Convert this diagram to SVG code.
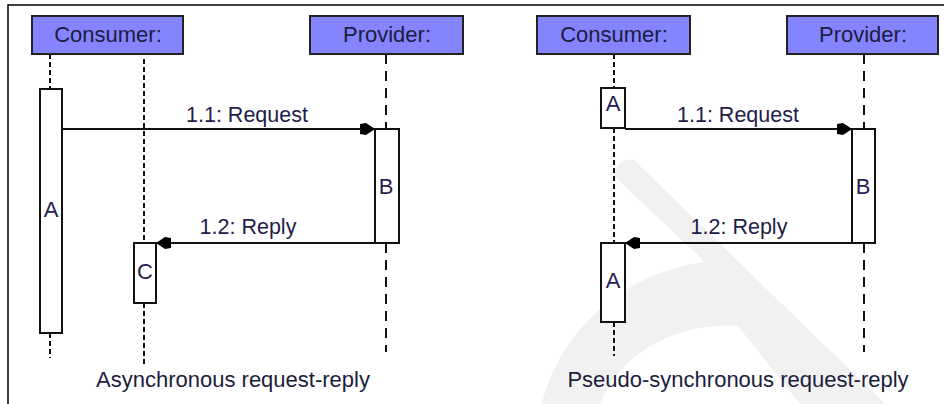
<svg xmlns="http://www.w3.org/2000/svg" width="944" height="404" viewBox="0 0 944 404">
<style>
.frame{fill:none;stroke:#000;stroke-width:1.5}
.obj{fill:#8484ff;stroke:#222;stroke-width:2}
.objt{font-family:"Liberation Sans",Arial,sans-serif;font-size:22px;fill:#1c1c40;text-anchor:middle}
.act{fill:#fff;stroke:#111;stroke-width:2}
.actt{font-family:"Liberation Sans",Arial,sans-serif;font-size:22px;fill:#2a2050;text-anchor:middle}
.life{fill:none;stroke:#111;stroke-width:2;stroke-dasharray:5 3}
.plife{fill:none;stroke:#111;stroke-width:2;stroke-dasharray:10 7}
.msg{fill:none;stroke:#111;stroke-width:2}
.msgt{font-family:"Liberation Sans",Arial,sans-serif;font-size:21.5px;fill:#241c48;text-anchor:middle}
.cap{font-family:"Liberation Sans",Arial,sans-serif;font-size:22px;fill:#1c1c3c;text-anchor:middle}
.wm{fill:#f1f1f1}
</style>
<defs>
<marker id="ah" markerUnits="userSpaceOnUse" markerWidth="16" markerHeight="13" refX="15" refY="6.5" orient="auto">
<path d="M0,1.5 L6,0.5 L15,6.5 L6,12.5 L0,11.5 Z" fill="#000"/>
</marker>
</defs>
<rect width="944" height="404" fill="#fff"/>
<g id="watermark">
<path class="wm" d="M614,176 Q616,158 634,160 L885,404 L800,404 L738,326 C680,322 622,350 600,404 L542,404 C560,330 625,272 705,262 Z"/>
</g>
<path class="frame" d="M8,404 L8,5 L944,5"/>
<g id="connectors">
<line class="life" x1="50" y1="54" x2="50" y2="89"/>
<line class="life" x1="50" y1="333" x2="50" y2="358"/>
<line class="life" x1="144" y1="59" x2="144" y2="243"/>
<line class="life" x1="144" y1="303" x2="144" y2="365"/>
<line class="plife" x1="386" y1="54" x2="386" y2="129"/>
<line class="plife" x1="386" y1="243" x2="386" y2="352"/>
<line class="msg" x1="62" y1="129" x2="375" y2="129" marker-end="url(#ah)"/>
<line class="msg" x1="375" y1="243" x2="156" y2="243" marker-end="url(#ah)"/>
<line class="life" x1="614" y1="54" x2="614" y2="88"/>
<line class="life" x1="614" y1="128" x2="614" y2="243"/>
<line class="life" x1="614" y1="322" x2="614" y2="356"/>
<line class="plife" x1="864" y1="54" x2="864" y2="129"/>
<line class="plife" x1="864" y1="243" x2="864" y2="352"/>
<line class="msg" x1="625" y1="129" x2="852" y2="129" marker-end="url(#ah)"/>
<line class="msg" x1="852" y1="243" x2="625" y2="243" marker-end="url(#ah)"/>
<text class="msgt" x="247" y="122">1.1: Request</text>
<text class="msgt" x="248" y="234">1.2: Reply</text>
<text class="msgt" x="738" y="122">1.1: Request</text>
<text class="msgt" x="739" y="234">1.2: Reply</text>
</g>
<g id="consumer-async">
<rect class="obj" x="32" y="16" width="151" height="38"/>
<text class="objt" x="108" y="42">Consumer:</text>
</g>
<g id="provider-async">
<rect class="obj" x="310" y="16" width="153" height="38"/>
<text class="objt" x="387" y="42">Provider:</text>
</g>
<g id="act-A-async">
<rect class="act" x="40" y="89" width="22" height="244"/>
<text class="actt" x="51" y="217">A</text>
</g>
<g id="act-B-async">
<rect class="act" x="375" y="129" width="24" height="114"/>
<text class="actt" x="386" y="194">B</text>
</g>
<g id="act-C-async">
<rect class="act" x="134" y="243" width="22" height="60"/>
<text class="actt" x="145" y="279">C</text>
</g>
<g id="consumer-pseudo">
<rect class="obj" x="537" y="16" width="153" height="38"/>
<text class="objt" x="614" y="42">Consumer:</text>
</g>
<g id="provider-pseudo">
<rect class="obj" x="787" y="16" width="151" height="38"/>
<text class="objt" x="863" y="42">Provider:</text>
</g>
<g id="act-A1-pseudo">
<rect class="act" x="601" y="88" width="24" height="40"/>
<text class="actt" x="613" y="111">A</text>
</g>
<g id="act-B-pseudo">
<rect class="act" x="852" y="129" width="23" height="114"/>
<text class="actt" x="863" y="194">B</text>
</g>
<g id="act-A2-pseudo">
<rect class="act" x="601" y="243" width="24" height="79"/>
<text class="actt" x="613" y="288">A</text>
</g>
<text class="cap" x="233" y="387">Asynchronous request-reply</text>
<text class="cap" x="738" y="387">Pseudo-synchronous request-reply</text>
</svg>
